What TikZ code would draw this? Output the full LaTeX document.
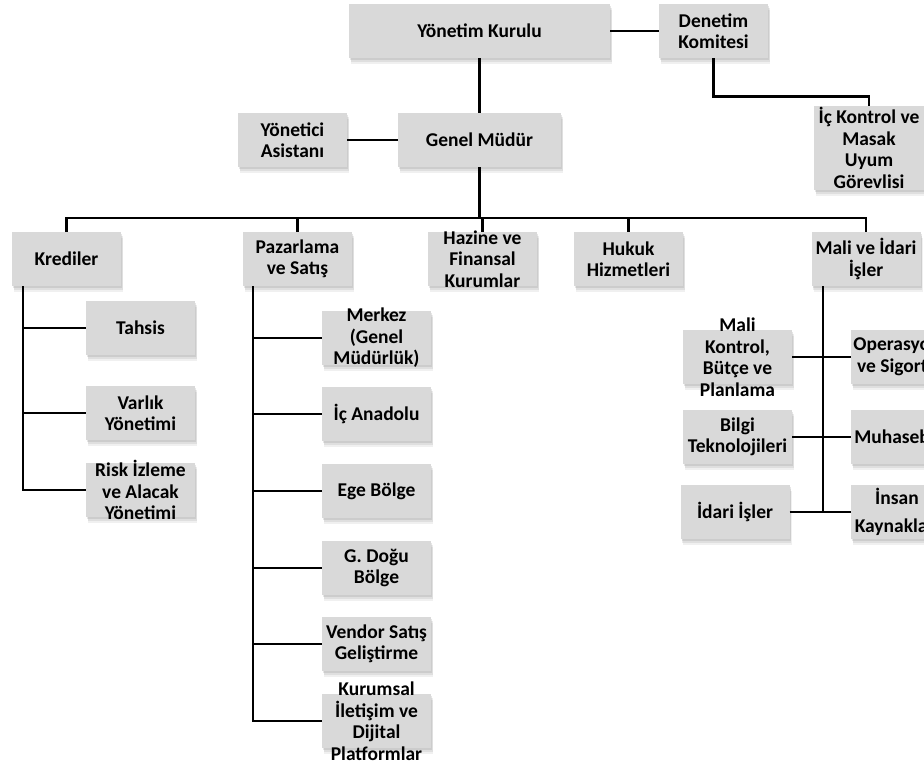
\documentclass[tikz,border=0pt]{standalone}
\usepackage{fontspec}
\setmainfont{Carlito}
\usepackage{tikz}
\usetikzlibrary{positioning,shadows}
\usepackage{xcolor}
\definecolor{boxgray}{RGB}{217,217,217}
\tikzstyle{unit} = [rectangle, fill=boxgray, minimum width=109pt, minimum height=54pt, inner sep=0pt,
  drop shadow={opacity=0.12, shadow xshift=2pt, shadow yshift=-6pt},
  drop shadow={opacity=0.15, shadow xshift=1.5pt, shadow yshift=-4pt},
  drop shadow={opacity=0.2, shadow xshift=1pt, shadow yshift=-2pt}]
\tikzstyle{unittext} = [font=\bfseries\fontsize{19.5}{21.5}\selectfont, align=center, inner sep=0pt]
\tikzstyle{link} = [line width=2.8pt, color=black]

\begin{document}
\begin{tikzpicture}[x=1pt, y=-1pt]
\useasboundingbox (0,0) rectangle (924,769);
% Board and general manager
\node[unit, minimum width=261pt, label={[unittext]center:{Yönetim Kurulu}}] (board) at (479.5,31) {};
\node[unit, label={[unittext]center:{Denetim\\Komitesi}}] (audit) at (713.5,31) {};
\node[unit, minimum width=110pt, minimum height=84pt, label={[unittext]center:{İç Kontrol ve\\Masak\\Uyum\\Görevlisi}}] (compliance) at (869,148) {};
\node[unit, label={[unittext]center:{Yönetici\\Asistanı}}] (assistant) at (292.5,140) {};
\node[unit, minimum width=163pt, label={[unittext]center:{Genel Müdür}}] (ceo) at (479.5,140) {};
\coordinate (bus) at (479.5,218);

% Departments
\node[unit, label={[unittext]center:{Krediler}}] (loans) at (66.5,259) {};
\node[unit, label={[unittext]center:{Pazarlama\\ve Satış}}] (sales) at (297.5,259) {};
\node[unit, label={[unittext]center:{Hazine ve\\Finansal\\Kurumlar}}] (treasury) at (482.5,259) {};
\node[unit, label={[unittext]center:{Hukuk\\Hizmetleri}}] (legal) at (628.5,259) {};
\node[unit, label={[unittext]center:{Mali ve İdari\\İşler}}] (finance) at (866,259) {};

% Krediler
\node[unit, label={[unittext]center:{Tahsis}}] (allocation) at (140.5,328) {};
\node[unit, label={[unittext]center:{Varlık\\Yönetimi}}] (assets) at (140.5,413) {};
\node[unit, label={[unittext]center:{Risk İzleme\\ve Alacak\\Yönetimi}}] (risk) at (140.5,490) {};

% Pazarlama ve Satis
\node[unit, label={[unittext]center:{Merkez\\(Genel\\Müdürlük)}}] (hq) at (376.5,338) {};
\node[unit, label={[unittext]center:{İç Anadolu}}] (anatolia) at (376.5,414) {};
\node[unit, label={[unittext]center:{Ege Bölge}}] (aegean) at (376.5,491) {};
\node[unit, label={[unittext]center:{G. Doğu\\Bölge}}] (southeast) at (376.5,568) {};
\node[unit, label={[unittext]center:{Vendor Satış\\Geliştirme}}] (vendor) at (376.5,644) {};
\node[unit, label={[unittext]center:{Kurumsal\\İletişim ve\\Dijital\\Platformlar}}] (corporate) at (376.5,721) {};

% Mali ve Idari Isler
\node[unit, label={[unittext]center:{Mali\\Kontrol,\\Bütçe ve\\Planlama}}] (control) at (737.5,357) {};
\node[unit, label={[unittext]center:{Bilgi\\Teknolojileri}}] (it) at (737.5,437) {};
\node[unit, label={[unittext]center:{İdari İşler}}] (admin) at (735,512) {};
\node[unit, minimum width=92pt, label={[unittext]center:{Operasyon\\ve Sigorta}}] (operations) at (897,357) {};
\node[unit, minimum width=92pt, label={[unittext]center:{Muhasebe}}] (accounting) at (897,437) {};
\node[unit, minimum width=92pt, label={[unittext]center:{İnsan\\[7pt]Kaynakları}}] (hr) at (897,512) {};

% Connectors
\draw[link] (board) -- (audit);
\draw[link] (board) -- (ceo);
\draw[link] (audit.south) -- ++(0,38) -| (compliance.north);
\draw[link] (assistant) -- (ceo);
\draw[link] (ceo) -- (bus);
\draw[link] (loans.north) |- (bus) -| (finance.north);
\foreach \n in {sales,treasury,legal}
  \draw[link] (\n.north) -- (\n.north |- bus);

\coordinate (loanstrunk) at ([xshift=-43.5pt]loans.south);
\draw[link] (loanstrunk) |- (risk.west);
\foreach \n in {allocation,assets}
  \draw[link] (loanstrunk |- \n.west) -- (\n.west);

\coordinate (salestrunk) at ([xshift=-44.5pt]sales.south);
\draw[link] (salestrunk) |- (corporate.west);
\foreach \n in {hq,anatolia,aegean,southeast,vendor}
  \draw[link] (salestrunk |- \n.west) -- (\n.west);

\coordinate (fintrunk) at ([xshift=-43pt]finance.south);
\draw[link] (fintrunk) -- (fintrunk |- hr.west);
\foreach \n in {control,it,admin}
  \draw[link] (\n.east) -- (fintrunk |- \n.east);
\foreach \n in {operations,accounting,hr}
  \draw[link] (fintrunk |- \n.west) -- (\n.west);
\end{tikzpicture}
\end{document}
